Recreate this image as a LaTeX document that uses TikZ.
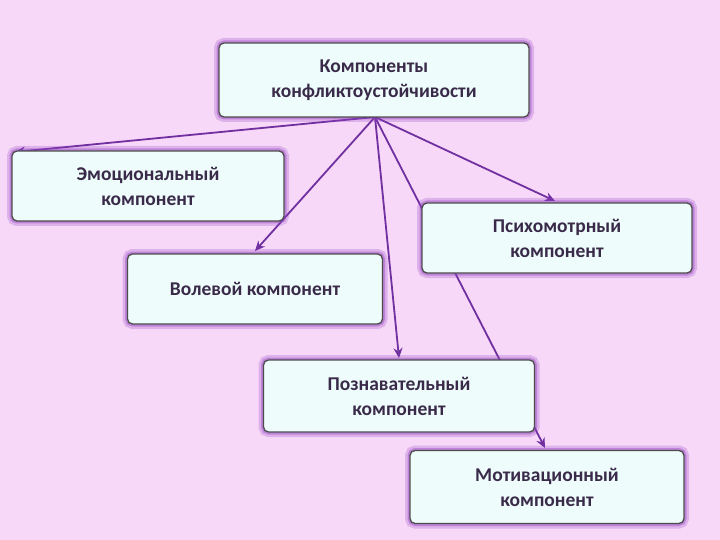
\documentclass[tikz,border=0pt]{standalone}
\usepackage{fontspec}
\setmainfont{Carlito}
\usetikzlibrary{arrows.meta}
\definecolor{bg}{HTML}{F8D8F8}
\definecolor{boxf}{HTML}{EEFDFB}
\definecolor{line}{HTML}{7030A0}
\definecolor{txt}{HTML}{3A2A4A}
\definecolor{glow}{HTML}{9040C0}
\begin{document}
\begin{tikzpicture}[x=1pt,y=-1pt,
 box/.style={draw=gray!60!black,line width=1.3pt,fill=boxf,rounded corners=5pt,inner sep=0pt,
   text=txt,font=\bfseries\fontsize{19.5}{25}\selectfont,align=center,
   preaction={draw=glow,line width=10pt,draw opacity=0.25},
   preaction={draw=glow,line width=5pt,draw opacity=0.4}},
 conn/.style={line,line width=1.8pt,-{Stealth[length=10pt,width=9pt]}}]
\fill[bg] (0,0) rectangle (720,540);
\useasboundingbox (0,0) rectangle (720,540);
\coordinate (s) at (375,117);
\coordinate (e1) at (15,152);
\coordinate (e2) at (255,251);
\coordinate (e3) at (555,201);
\coordinate (e4) at (399,358);
\coordinate (e5) at (545,448);
\foreach \e in {e1,e2,e3,e4,e5} \draw[conn] (s) -- (\e);
\node[box,minimum width=310pt,minimum height=74pt] (top) at (374,80) {Компоненты\\конфликтоустойчивости};
\node[box,minimum width=272pt,minimum height=70pt] (emo) at (148,186) {Эмоциональный\\компонент};
\node[box,minimum width=255pt,minimum height=70pt] (vol) at (255,289) {Волевой компонент};
\node[box,minimum width=270pt,minimum height=70pt] (psy) at (557,238) {Психомотрный\\компонент};
\node[box,minimum width=271pt,minimum height=72pt] (poz) at (399,396) {Познавательный\\компонент};
\node[box,minimum width=274pt,minimum height=73pt] (mot) at (547,487) {Мотивационный\\компонент};
\end{tikzpicture}
\end{document}
